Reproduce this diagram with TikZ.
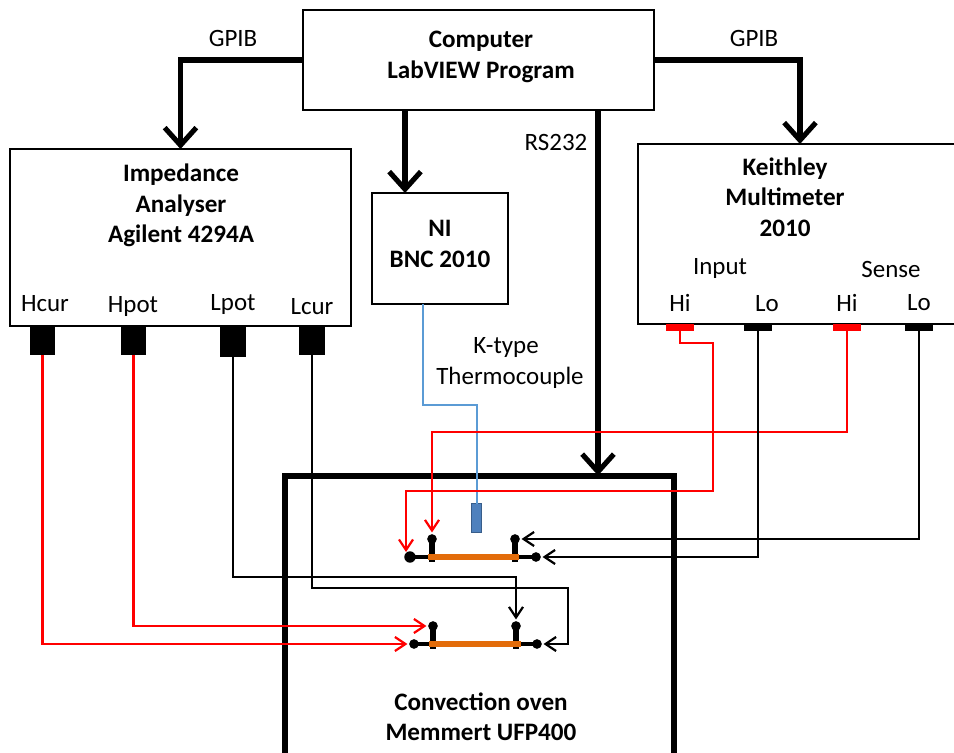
\documentclass[tikz,border=0pt]{standalone}
\usepackage{fontspec}
\setmainfont{Carlito}
\usetikzlibrary{calc}
\usetikzlibrary{arrows.meta}

\definecolor{barorange}{RGB}{227,108,10}
\definecolor{tcblue}{RGB}{91,155,213}
\definecolor{probefill}{RGB}{79,129,189}
\definecolor{probeline}{RGB}{56,93,138}

\tikzset{
  box/.style={draw,line width=1.1pt,inner sep=0pt,outer sep=0pt},
  title/.style={font=\fontsize{14.3}{17.3}\selectfont\bfseries,align=center,inner sep=0pt},
  txt/.style={font=\fontsize{14.2}{17}\selectfont,align=center,inner sep=0pt},
  bus/.style={line width=2.9pt,-{Straight Barb[length=10pt,width=18pt,line width=2.9pt]}},
  wire/.style={line width=1.25pt,-{Straight Barb[length=6pt,width=8pt,line width=1.25pt]}},
  redwire/.style={wire,red},
  tcwire/.style={line width=1.25pt,tcblue},
  port/.style={fill=black,inner sep=0pt,outer sep=0pt,minimum width=14.5pt,minimum height=16.5pt},
  pad/.style={inner sep=0pt,outer sep=0pt,minimum width=16pt,minimum height=4pt},
  term/.style={circle,fill=black,inner sep=0pt,outer sep=1pt,minimum size=5.5pt},
  post/.style={line width=3pt},
  stub/.style={line width=2.6pt},
  bar/.style={line width=3.6pt,barorange},
  probe/.style={draw=probeline,fill=probefill,line width=0.6pt,inner sep=0pt,outer sep=0pt,minimum width=6pt,minimum height=16pt},
}

\begin{document}
\begin{tikzpicture}[x=0.02cm,y=-0.02cm]
  \useasboundingbox (0,0) rectangle (954,753);

  \node[box,minimum width=7.02cm,minimum height=2cm] (comp) at (478.5,60) {};
  \node[box,minimum width=6.82cm,minimum height=3.54cm] (imp) at (180.5,237.5) {};
  \node[box,minimum width=2.72cm,minimum height=2.22cm] (ni) at (440,248.5) {};
  \node[box,minimum width=6.48cm,minimum height=3.6cm] (keith) at (800,234) {};
  \node[box,line width=3.4pt,minimum width=7.78cm,minimum height=5.7cm] (oven) at (479.5,618) {};

  \node[title] (comptxt) at (481,57) {Computer\\LabVIEW Program};
  \node[title] (imptxt) at (181,205.5) {Impedance\\Analyser\\Agilent 4294A};
  \node[title] (nitxt) at (440,244) {NI\\BNC 2010};
  \node[title] (keithtxt) at (785,197) {Keithley\\Multimeter\\2010};
  \node[title] (oventxt) at (481,717) {Convection oven\\Memmert UFP400};

  \node[txt] (gpiba) at (233,38) {GPIB};
  \node[txt] (gpibb) at (754,38) {GPIB};
  \node[txt] (rs) at (556,142) {RS232};
  \node[txt] (ktype) at (506,348) {K-type};
  \node[txt] (tcouple) at (510,378) {Thermocouple};
  \node[txt] (input) at (720,269) {Input};
  \node[txt] (sense) at (891,269) {Sense};

  \node[txt] (hcurtxt) at (45,304) {Hcur};
  \node[txt] (hpottxt) at (133,307) {Hpot};
  \node[txt] (lpottxt) at (233,305) {Lpot};
  \node[txt] (lcurtxt) at (312,307) {Lcur};
  \node[txt] (hiatxt) at (680,303) {Hi};
  \node[txt] (loatxt) at (767,304) {Lo};
  \node[txt] (hibtxt) at (847,303) {Hi};
  \node[txt] (lobtxt) at (919,303) {Lo};

  \node[port] (hcur) at (42.5,340.5) {};
  \node[port] (hpot) at (133.5,340.5) {};
  \node[port,minimum height=17.5pt] (lpot) at (233,341.5) {};
  \node[port] (lcur) at (312,340.5) {};

  \node[pad,fill=red] (hia) at (680,327.5) {};
  \node[pad,fill=black] (loa) at (758,327.5) {};
  \node[pad,fill=red] (hib) at (847,327.5) {};
  \node[pad,fill=black] (lob) at (919,327.5) {};

  \node[term,minimum size=6.5pt] (ula) at (410,557) {};
  \node[term] (ulb) at (432,539) {};
  \node[term] (ura) at (515,539) {};
  \node[term] (urb) at (536,557) {};
  \node[term] (lla) at (414,644) {};
  \node[term] (llb) at (433,626) {};
  \node[term] (lra) at (516,626) {};
  \node[term] (lrb) at (537,644) {};
  \node[probe] (sensor) at (476.5,518) {};

  \coordinate (niout) at (405,110);
  \coordinate (rsout) at (598,110);
  \coordinate (tcout) at (423,304);
  \coordinate (tcbend) at (423,405);
  \coordinate (tcdrop) at (477,405);
  \coordinate (hiabend) at (713,343);
  \coordinate (hiacorner) at (713,491);
  \coordinate (hialeft) at (406,491);
  \coordinate (hiaend) at (406,552);
  \coordinate (hibleft) at (432,432);
  \coordinate (lpotbend) at (233,577);
  \coordinate (lcurbend) at (568,588);

  \draw[stub] (ula.center) -- (urb.center);
  \draw[post] (ulb.center) -- (432,562);
  \draw[post] (ura.center) -- (515,562);
  \draw[stub] (lla.center) -- (lrb.center);
  \draw[post] (llb.center) -- (433,649);
  \draw[post] (lra.center) -- (516,649);
  \draw[bar] (428,557) -- (519,557);
  \draw[bar] (429,644) -- (521,644);

  \draw[bus] (comp.west) -| (imp.north);
  \draw[bus] (comp.east) -| (keith.north);
  \draw[bus] (niout) -- (niout |- ni.north);
  \draw[bus] (rsout) -- (rsout |- oven.north);

  \draw[tcwire] (tcout) -- (tcbend) -- (tcdrop) -- (sensor.north -| tcdrop);

  \draw[redwire] (hcur.south) |- (lla);
  \draw[redwire] (hpot.south) |- (llb);
  \draw[wire] (lpot.south) |- (lpotbend) -| (lra);
  \draw[wire] (lcur.south) |- (lcurbend) |- (lrb);
  \draw[redwire] (hia.south) |- (hiabend) -- (hiacorner) -- (hialeft) -- (hiaend);
  \draw[redwire] (hib.south) |- (hibleft) -- (ulb);
  \draw[wire] (loa.south) |- (urb);
  \draw[wire] (lob.south) |- (ura);
\end{tikzpicture}
\end{document}
